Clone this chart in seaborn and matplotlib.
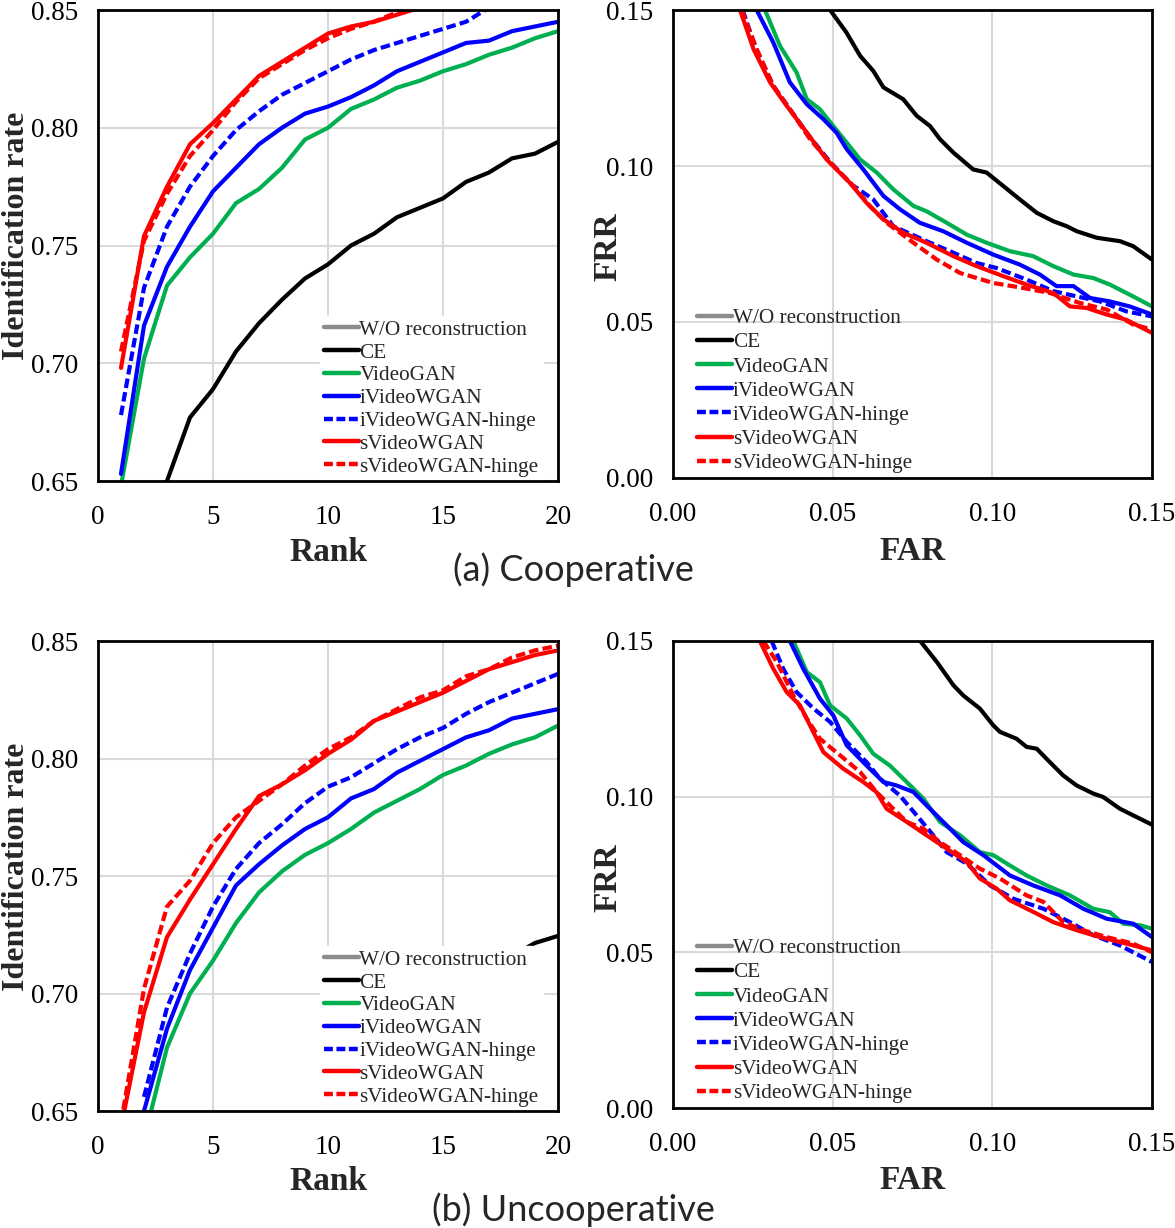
import numpy as np
import pandas as pd
import matplotlib
matplotlib.use("Agg")
import matplotlib.pyplot as plt
import seaborn as sns
from matplotlib.lines import Line2D

# ---- series names / styles ----
names = ["W/O reconstruction", "CE", "VideoGAN", "iVideoWGAN", "iVideoWGAN-hinge",
         "sVideoWGAN", "sVideoWGAN-hinge"]
colors = {"W/O reconstruction": "#8c8c8c", "CE": "#000000", "VideoGAN": "#00b050",
          "iVideoWGAN": "#0000ff", "iVideoWGAN-hinge": "#0000ff",
          "sVideoWGAN": "#ff0000", "sVideoWGAN-hinge": "#ff0000"}
dashed = {"iVideoWGAN-hinge", "sVideoWGAN-hinge"}

# ---- (a) cooperative, CMC ----
coop_rank = {
    "CE": ([3, 4, 5, 6, 7, 8, 9, 10, 11, 12, 13, 14, 15, 16, 17, 18, 19, 20],
           [0.650, 0.677, 0.689, 0.705, 0.717, 0.727, 0.736, 0.742, 0.750, 0.755, 0.762,
            0.766, 0.770, 0.777, 0.781, 0.787, 0.789, 0.794]),
    "VideoGAN": (list(range(1, 21)),
                 [0.648, 0.702, 0.733, 0.745, 0.755, 0.768, 0.774, 0.783, 0.795, 0.800,
                  0.808, 0.812, 0.817, 0.820, 0.824, 0.827, 0.831, 0.834, 0.838, 0.841]),
    "iVideoWGAN": (list(range(1, 21)),
                   [0.653, 0.716, 0.741, 0.758, 0.773, 0.783, 0.793, 0.800, 0.806, 0.809,
                    0.813, 0.818, 0.824, 0.828, 0.832, 0.836, 0.837, 0.841, 0.843, 0.845]),
    "iVideoWGAN-hinge": (list(range(1, 18)),
                         [0.678, 0.732, 0.758, 0.775, 0.788, 0.799, 0.807, 0.814, 0.819,
                          0.824, 0.829, 0.833, 0.836, 0.839, 0.842, 0.845, 0.851]),
    "sVideoWGAN": (list(range(1, 15)),
                   [0.698, 0.754, 0.775, 0.793, 0.802, 0.812, 0.822, 0.828, 0.834, 0.840,
                    0.843, 0.845, 0.848, 0.851]),
    "sVideoWGAN-hinge": (list(range(1, 15)),
                         [0.705, 0.752, 0.772, 0.788, 0.799, 0.811, 0.821, 0.827, 0.833,
                          0.838, 0.842, 0.845, 0.849, 0.851]),
}

# ---- (a) cooperative, FRR vs FAR ----
coop_roc = {
    "CE": ([0.0492, 0.0543, 0.0586, 0.0627, 0.0659, 0.0721, 0.0763, 0.0805, 0.0836, 0.0878,
            0.0940, 0.0982, 0.1034, 0.1086, 0.1139, 0.1191, 0.1233, 0.1264, 0.1327, 0.1400,
            0.1441, 0.1500],
           [0.150, 0.1428, 0.1353, 0.1305, 0.1252, 0.1214, 0.1161, 0.1128, 0.1086, 0.1043,
            0.0989, 0.0979, 0.0936, 0.0893, 0.0850, 0.0823, 0.0807, 0.0791, 0.0770, 0.0759,
            0.0743, 0.0700]),
    "VideoGAN": ([0.0288, 0.0335, 0.0387, 0.0419, 0.0460, 0.0502, 0.0544, 0.0586, 0.0638,
                  0.0690, 0.0753, 0.0794, 0.0857, 0.0920, 0.0982, 0.1055, 0.1128, 0.1191,
                  0.1254, 0.1316, 0.1368, 0.1441, 0.1500],
                 [0.150, 0.1385, 0.1300, 0.1214, 0.1182, 0.1128, 0.1075, 0.1021, 0.0979,
                  0.0925, 0.0872, 0.0855, 0.0818, 0.0780, 0.0754, 0.0727, 0.0711, 0.0679,
                  0.0652, 0.0641, 0.0620, 0.0582, 0.0550]),
    "iVideoWGAN": ([0.0262, 0.0314, 0.0366, 0.0419, 0.0471, 0.0512, 0.0544, 0.0596, 0.0659,
                    0.0711, 0.0773, 0.0846, 0.0920, 0.1003, 0.1086, 0.1149, 0.1201, 0.1254,
                    0.1306, 0.1368, 0.1430, 0.1500],
                   [0.150, 0.1396, 0.1268, 0.1198, 0.1150, 0.1107, 0.1054, 0.0989, 0.0904,
                    0.0861, 0.0818, 0.0791, 0.0754, 0.0716, 0.0684, 0.0652, 0.0615, 0.0615,
                    0.0577, 0.0566, 0.0550, 0.0524]),
    "iVideoWGAN-hinge": ([0.0218, 0.0260, 0.0312, 0.0364, 0.0427, 0.0490, 0.0560, 0.0627,
                          0.0690, 0.0794, 0.0878, 0.0951, 0.1013, 0.1107, 0.1191, 0.1264,
                          0.1337, 0.1420, 0.1500],
                         [0.150, 0.1375, 0.1260, 0.1185, 0.1095, 0.1015, 0.0940, 0.0893,
                          0.0807, 0.0759, 0.0722, 0.0689, 0.0673, 0.0636, 0.0599, 0.0582,
                          0.0566, 0.0534, 0.0518]),
    "sVideoWGAN": ([0.0210, 0.0252, 0.0304, 0.0356, 0.0419, 0.0481, 0.0554, 0.0606, 0.0659,
                    0.0721, 0.0794, 0.0878, 0.0951, 0.1034, 0.1107, 0.1191, 0.1243, 0.1295,
                    0.1358, 0.1420, 0.1500],
                   [0.150, 0.1375, 0.1268, 0.1193, 0.1107, 0.1021, 0.0946, 0.0882, 0.0829,
                    0.0786, 0.0754, 0.0711, 0.0679, 0.0647, 0.0620, 0.0593, 0.0550, 0.0545,
                    0.0524, 0.0507, 0.0465]),
    "sVideoWGAN-hinge": ([0.0215, 0.0262, 0.0314, 0.0366, 0.0429, 0.0492, 0.0565, 0.0617,
                          0.0669, 0.0753, 0.0826, 0.0899, 0.1003, 0.1097, 0.1180, 0.1274,
                          0.1358, 0.1441, 0.1500],
                         [0.150, 0.1375, 0.1257, 0.1182, 0.1086, 0.1011, 0.0936, 0.0871,
                          0.0818, 0.0754, 0.0700, 0.0657, 0.0625, 0.0609, 0.0593, 0.0561,
                          0.0540, 0.0492, 0.0476]),
}

# ---- (b) uncooperative, CMC ----
uncoop_rank = {
    "CE": ([9, 10, 11, 12, 13, 14, 15, 16, 17, 18, 19, 20],
           [0.636, 0.651, 0.664, 0.674, 0.683, 0.691, 0.698, 0.704, 0.710, 0.716,
            0.7215, 0.7245]),
    "VideoGAN": (list(range(2, 21)),
                 [0.638, 0.677, 0.700, 0.714, 0.730, 0.743, 0.752, 0.759, 0.764, 0.770,
                  0.777, 0.782, 0.787, 0.793, 0.797, 0.802, 0.806, 0.809, 0.814]),
    "iVideoWGAN": (list(range(2, 21)),
                   [0.650, 0.685, 0.710, 0.728, 0.746, 0.755, 0.763, 0.770, 0.775, 0.783,
                    0.787, 0.794, 0.799, 0.804, 0.809, 0.812, 0.817, 0.819, 0.821]),
    "iVideoWGAN-hinge": (list(range(2, 21)),
                         [0.656, 0.694, 0.717, 0.737, 0.753, 0.764, 0.772, 0.781, 0.788,
                          0.792, 0.798, 0.804, 0.809, 0.813, 0.819, 0.824, 0.828, 0.832,
                          0.836]),
    "sVideoWGAN": (list(range(1, 21)),
                   [0.643, 0.692, 0.724, 0.740, 0.755, 0.770, 0.784, 0.789, 0.795, 0.802,
                    0.808, 0.816, 0.820, 0.824, 0.828, 0.833, 0.838, 0.841, 0.844, 0.846]),
    "sVideoWGAN-hinge": (list(range(1, 21)),
                         [0.645, 0.702, 0.737, 0.748, 0.764, 0.775, 0.782, 0.789, 0.797,
                          0.804, 0.809, 0.816, 0.821, 0.826, 0.829, 0.835, 0.838, 0.843,
                          0.846, 0.848]),
}

# ---- (b) uncooperative, FRR vs FAR ----
uncoop_roc = {
    "CE": ([0.0774, 0.0826, 0.0878, 0.0909, 0.0961, 0.1003, 0.1024, 0.1076, 0.1107, 0.1139,
            0.1180, 0.1222, 0.1264, 0.1316, 0.1347, 0.1400, 0.1441, 0.1500],
           [0.150, 0.1433, 0.1358, 0.1325, 0.1283, 0.1229, 0.1208, 0.1186, 0.1160, 0.1154,
            0.1111, 0.1068, 0.1036, 0.1010, 0.0999, 0.0961, 0.0940, 0.0910]),
    "VideoGAN": ([0.0377, 0.0419, 0.0460, 0.0492, 0.0544, 0.0586, 0.0627, 0.0679, 0.0732,
                  0.0784, 0.0836, 0.0899, 0.0961, 0.1003, 0.1055, 0.1107, 0.1170, 0.1243,
                  0.1316, 0.1368, 0.1410, 0.1462, 0.1500],
                 [0.150, 0.1400, 0.1368, 0.1293, 0.1251, 0.1197, 0.1138, 0.1100, 0.1047,
                  0.0994, 0.0919, 0.0876, 0.0822, 0.0812, 0.0779, 0.0747, 0.0715, 0.0683,
                  0.0640, 0.0629, 0.0592, 0.0587, 0.0576]),
    "iVideoWGAN": ([0.0366, 0.0408, 0.0460, 0.0502, 0.0544, 0.0606, 0.0659, 0.0700, 0.0753,
                    0.0794, 0.0857, 0.0909, 0.0972, 0.1055, 0.1128, 0.1212, 0.1285, 0.1358,
                    0.1441, 0.1500],
                   [0.150, 0.1411, 0.1315, 0.1261, 0.1165, 0.1100, 0.1047, 0.1036, 0.1015,
                    0.0972, 0.0908, 0.0854, 0.0812, 0.0747, 0.0715, 0.0683, 0.0640, 0.0608,
                    0.0592, 0.0549]),
    "iVideoWGAN-hinge": ([0.0309, 0.0345, 0.0387, 0.0440, 0.0492, 0.0544, 0.0606, 0.0648,
                          0.0710, 0.0763, 0.0815, 0.0857, 0.0920, 0.0993, 0.1066, 0.1160,
                          0.1243, 0.1316, 0.1400, 0.1500],
                         [0.150, 0.1411, 0.1336, 0.1283, 0.1240, 0.1176, 0.1111, 0.1058,
                          0.1004, 0.0940, 0.0876, 0.0822, 0.0785, 0.0715, 0.0672, 0.0640,
                          0.0597, 0.0555, 0.0522, 0.0469]),
    "sVideoWGAN": ([0.0272, 0.0314, 0.0356, 0.0398, 0.0429, 0.0471, 0.0533, 0.0596, 0.0637,
                    0.0669, 0.0732, 0.0794, 0.0857, 0.0920, 0.0961, 0.1013, 0.1055, 0.1128,
                    0.1191, 0.1264, 0.1337, 0.1420, 0.1500],
                   [0.150, 0.1411, 0.1336, 0.1293, 0.1229, 0.1143, 0.1090, 0.1047, 0.1015,
                    0.0961, 0.0919, 0.0876, 0.0833, 0.0790, 0.0737, 0.0705, 0.0667, 0.0630,
                    0.0597, 0.0571, 0.0549, 0.0528, 0.0506]),
    "sVideoWGAN-hinge": ([0.0283, 0.0325, 0.0377, 0.0419, 0.0460, 0.0523, 0.0586, 0.0637,
                          0.0690, 0.0732, 0.0784, 0.0836, 0.0899, 0.0961, 0.1024, 0.1107,
                          0.1160, 0.1222, 0.1285, 0.1358, 0.1441, 0.1500],
                         [0.150, 0.1433, 0.1325, 0.1251, 0.1186, 0.1133, 0.1079, 0.1015,
                          0.0961, 0.0919, 0.0897, 0.0854, 0.0812, 0.0769, 0.0737, 0.0683,
                          0.0662, 0.0597, 0.0571, 0.0549, 0.0528, 0.0500]),
}

rank_ticks = [0, 5, 10, 15, 20]
ir_ticks = [0.65, 0.70, 0.75, 0.80, 0.85]
far_ticks = [0.00, 0.05, 0.10, 0.15]

sns.set_theme(style="white")
plt.rcParams['font.family'] = ['Liberation Serif', 'DejaVu Serif']

fig = plt.figure(figsize=(11.75, 12.28), dpi=100)
pos = {
    "tl": [98 / 1175, 1 - 481 / 1228, 460 / 1175, 471 / 1228],
    "tr": [673 / 1175, 1 - 478 / 1228, 479 / 1175, 468 / 1228],
    "bl": [98 / 1175, 1 - 1111 / 1228, 460 / 1175, 470 / 1228],
    "br": [673 / 1175, 1 - 1108 / 1228, 479 / 1175, 467 / 1228],
}


def draw(ax, data):
    for name in names[1:]:
        if name not in data:
            continue
        xs, ys = data[name]
        df = pd.DataFrame({"x": xs, "y": ys})
        sns.lineplot(data=df, x="x", y="y", ax=ax, color=colors[name], lw=3.0,
                     estimator=None, sort=False, legend=False)
        if name in dashed:
            ax.lines[-1].set_dashes((2.3, 1.0))


def style(ax, xticks, yticks, xlabel, ylabel, fmt_x, fmt_y, xlab_y, ylab_x, ylab_y,
          ylab_size):
    ax.set_xlim(xticks[0], xticks[-1])
    ax.set_ylim(yticks[0], yticks[-1])
    ax.set_xticks(xticks)
    ax.set_yticks(yticks)
    ax.set_xticklabels([fmt_x.format(v) for v in xticks])
    ax.set_yticklabels([fmt_y.format(v) for v in yticks])
    ax.grid(True, color="#d9d9d9", lw=1.5)
    ax.set_axisbelow(True)
    for sp in ax.spines.values():
        sp.set_color("black")
        sp.set_linewidth(2.0)
    ax.tick_params(length=0, labelsize=19.5, colors="black")
    ax.tick_params(axis="x", pad=17)
    ax.tick_params(axis="y", pad=14.5)
    ax.set_xlabel(xlabel, fontsize=24, fontweight="bold")
    ax.set_ylabel(ylabel, fontsize=ylab_size, fontweight="bold")
    ax.xaxis.set_label_coords(0.5, xlab_y)
    ax.yaxis.set_label_coords(ylab_x, ylab_y)


def legend(ax, kind):
    handles = [Line2D([], [], color=colors[n], lw=3.2,
                      linestyle=(0, (2.0, 0.8)) if n in dashed else "-") for n in names]
    if kind == "rank":
        leg = ax.legend(handles, names, loc="lower right", bbox_to_anchor=(0.967, 0.0),
                        fontsize=15.3, handlelength=1.65, handletextpad=0.02,
                        labelspacing=0.14, borderpad=0.2, borderaxespad=0.0,
                        frameon=True, fancybox=False)
        leg.get_frame().set_facecolor("white")
        leg.get_frame().set_edgecolor("white")
        leg.get_frame().set_alpha(1.0)
        leg.set_zorder(2.4)  # keep the spines above the white box
    else:
        ax.legend(handles, names, loc="lower left", bbox_to_anchor=(0.046, 0.006),
                  fontsize=15.3, handlelength=1.65, handletextpad=0.02,
                  labelspacing=0.2, borderpad=0.1, borderaxespad=0.0,
                  frameon=False)


panels = [("tl", coop_rank, "rank"), ("tr", coop_roc, "roc"),
          ("bl", uncoop_rank, "rank"), ("br", uncoop_roc, "roc")]
for key, data, kind in panels:
    ax = fig.add_axes(pos[key])
    draw(ax, data)
    if kind == "rank":
        style(ax, rank_ticks, ir_ticks, "Rank", "Identification rate", "{:d}", "{:.2f}",
              -0.118, -0.146, 0.52, 23)
    else:
        style(ax, far_ticks, far_ticks, "FAR", "FRR", "{:.2f}", "{:.2f}",
              -0.123, -0.104, 0.494, 24)
    legend(ax, kind)

fig.text(573 / 1175, 1 - 570 / 1228, "(a) Cooperative", ha="center", va="center",
         fontsize=26, family=["Lato", "DejaVu Sans"])
fig.text(573 / 1175, 1 - 1210 / 1228, "(b) Uncooperative", ha="center", va="center",
         fontsize=26, family=["Lato", "DejaVu Sans"])

fig.savefig("out.png", dpi=100)
